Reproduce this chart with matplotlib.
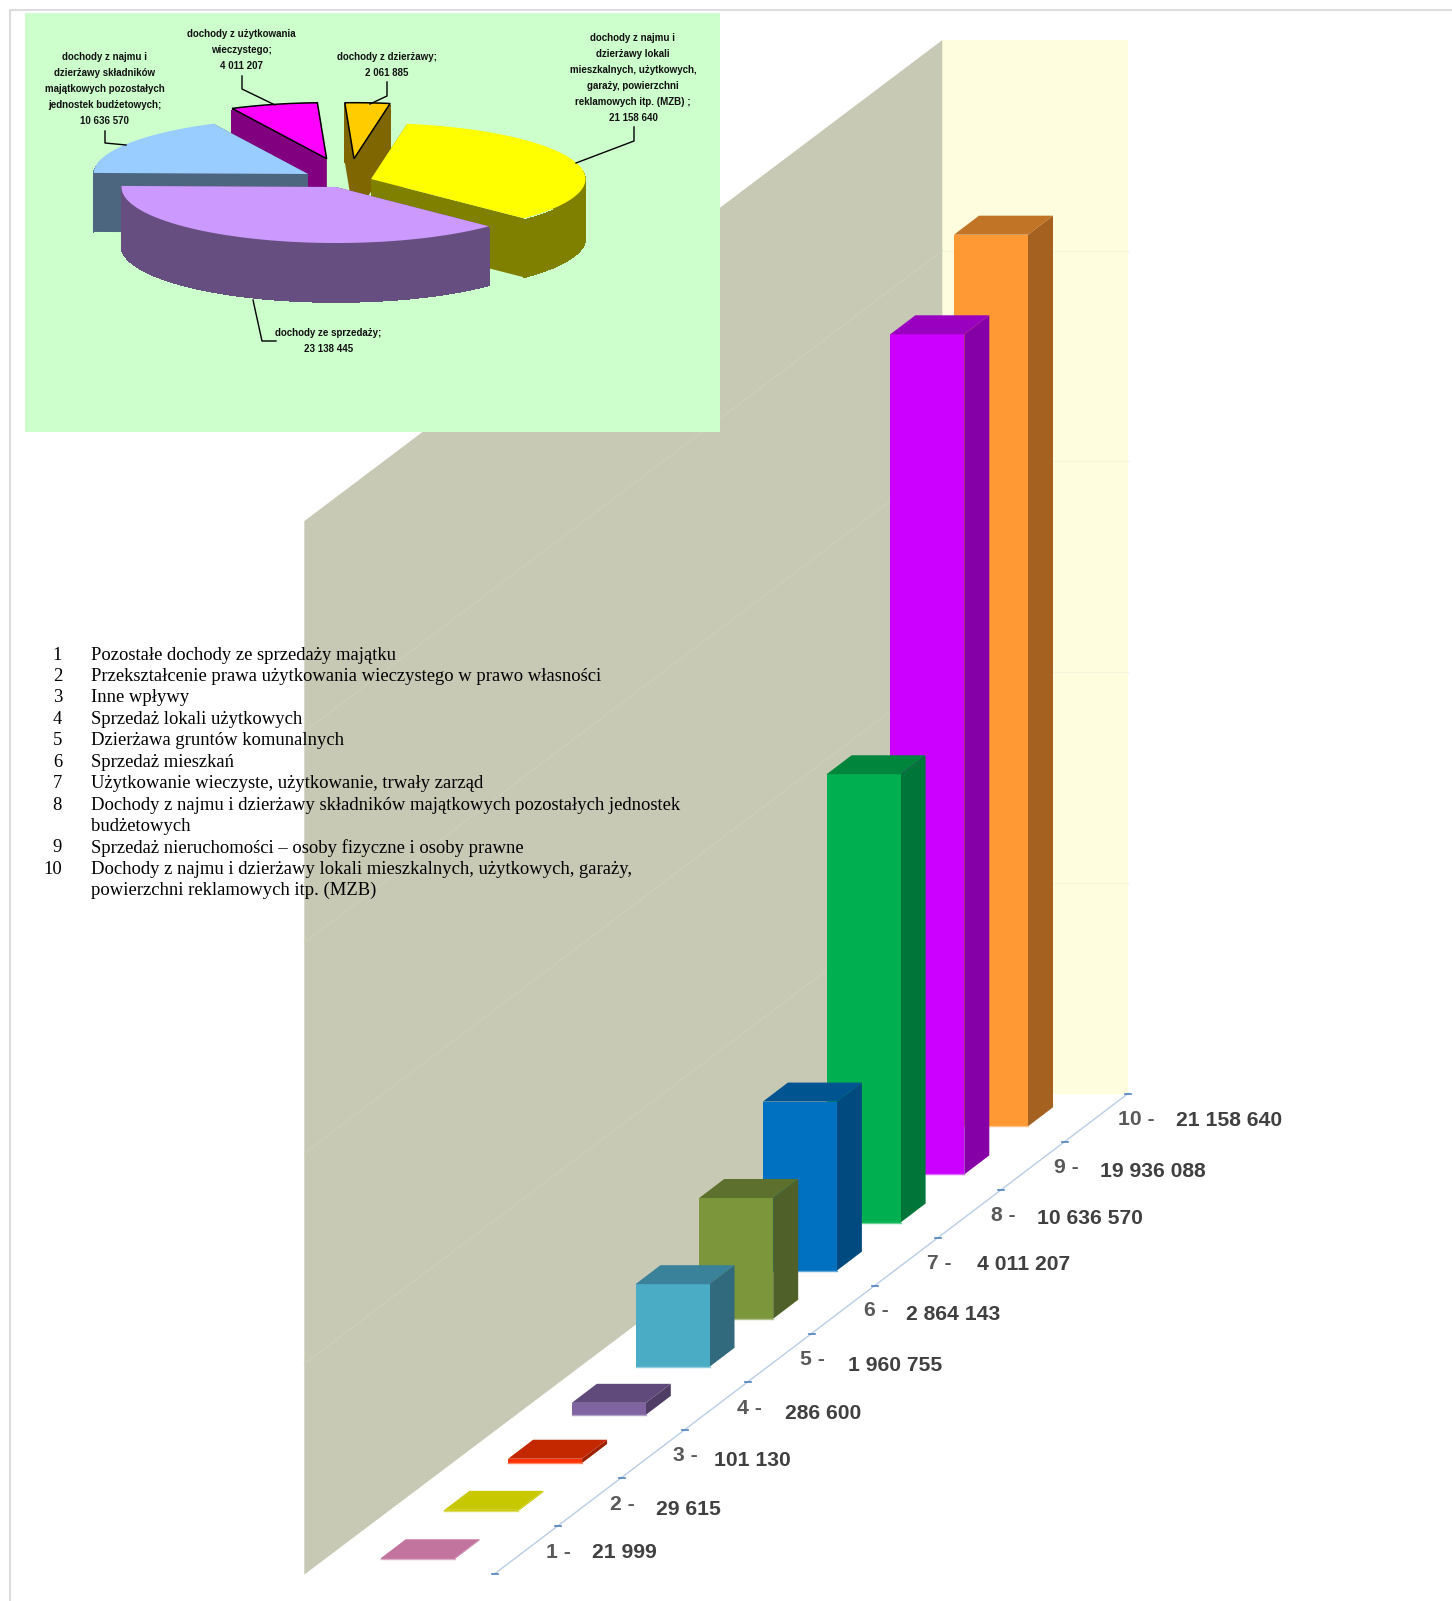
import numpy as np
import matplotlib
matplotlib.use("Agg")
import matplotlib.pyplot as plt
from matplotlib.collections import PolyCollection
from matplotlib.colors import to_rgb

# bar chart data
categories = ["1", "2", "3", "4", "5", "6", "7", "8", "9", "10"]
values = [21999, 29615, 101130, 286600, 1960755, 2864143, 4011207, 10636570, 19936088, 21158640]
value_labels = ["21 999", "29 615", "101 130", "286 600", "1 960 755", "2 864 143",
                "4 011 207", "10 636 570", "19 936 088", "21 158 640"]
y_ticks = [5000000, 10000000, 15000000, 20000000, 25000000]

# legend list
legend_rows = [
    ("1", "Pozostałe dochody ze sprzedaży majątku"),
    ("2", "Przekształcenie prawa użytkowania wieczystego w prawo własności"),
    ("3", "Inne wpływy"),
    ("4", "Sprzedaż lokali użytkowych"),
    ("5", "Dzierżawa gruntów komunalnych"),
    ("6", "Sprzedaż mieszkań"),
    ("7", "Użytkowanie wieczyste, użytkowanie, trwały zarząd"),
    ("8", "Dochody z najmu i dzierżawy składników majątkowych pozostałych jednostek"),
    ("", "budżetowych"),
    ("9", "Sprzedaż nieruchomości – osoby fizyczne i osoby prawne"),
    ("10", "Dochody z najmu i dzierżawy lokali mieszkalnych, użytkowych, garaży,"),
    ("", "powierzchni reklamowych itp. (MZB)"),
]

# pie data, clockwise from the start angle
pie_names = ["yellow", "lilac", "blue", "magenta", "orange"]
pie_values = [21158640, 23138445, 10636570, 4011207, 2061885]
pie_text = [
    ["dochody z najmu i", "dzierżawy lokali", "mieszkalnych, użytkowych,", "garaży, powierzchni",
     "reklamowych itp. (MZB) ;", "21 158 640"],
    ["dochody ze sprzedaży;", "23 138 445"],
    ["dochody z najmu i", "dzierżawy składników", "majątkowych pozostałych",
     "jednostek budżetowych;", "10 636 570"],
    ["dochody z użytkowania", "wieczystego;", "4 011 207"],
    ["dochody z dzierżawy;", "2 061 885"],
]

# styles and layout (pixels of the page)
front_cols = ["#C2749E", "#C8C800", "#FF3300", "#8064A2", "#4BACC6", "#7C963C", "#0070C0", "#00B050", "#CC00FF", "#FF9933"]
top_cols = ["#C2749E", "#C8C800", "#C42800", "#604A7B", "#39829A", "#5E702E", "#005490", "#00853C", "#9A00BF", "#C17326"]
side_cols = ["#C2749E", "#C8C800", "#9C2000", "#4F3D66", "#31697D", "#4F6128", "#004A7F", "#00753A", "#8600A8", "#A46120"]
label_gap = [46, 46, 41, 48, 48, 42, 50, 46, 46, 58]
cat_dy = [1, 2, 1, 2, 1, 0, 1, 1, 1, 1]
val_dy = [1, 7, 6, 7, 7, 4, 2, 4, 5, 2]
pie_tops = ["#FFFF00", "#CC99FF", "#99CCFF", "#FF00FF", "#FFCC00"]
pie_sides = ["#808000", "#664F80", "#4D6680", "#800080", "#806600"]
pie_apex = [(371, 179), (336, 187), (308, 174), (326.6, 158.7), (354, 158.7)]
pie_outline = [False, False, False, True, True]
pie_text_pos = [(633, 38), (328.5, 333), (104.5, 57), (241, 34), (387, 57)]
pie_leaders = [
    [(634, 127), (634, 141), (576, 163)],
    [(253, 300), (262, 341), (276, 341)],
    [(105, 131), (105, 143), (126, 145)],
    [(242, 76), (242, 89), (275, 105)],
    [(387, 82), (387, 96), (370, 104)],
]
PX_PER_VALUE = 42.14 / 1e6
BAR_W, DEPTH_X, DEPTH_Y = 74, 25, 19


def bar_x(i):
    return 954 - (9 - i) * 63.7


def bar_y(i):
    return 1126.3 + (9 - i) * 48.1


def lighter(col, f=0.4):
    r = np.array(to_rgb(col))
    return tuple(r + (1 - r) * f)


fig = plt.figure(figsize=(14.52, 16.01), dpi=100)
ax = fig.add_axes([0, 0, 1, 1])
ax.set_xlim(0, 1452)
ax.set_ylim(1601, 0)
ax.axis("off")

# page frame
ax.plot([9.5, 9.5, 1452], [1601, 10, 10], color="#DCDCDC", lw=1.5, zorder=0.5)

# walls
wall_x0, wall_x1, wall_x2 = 304.3, 942.3, 1128
wall_base, wall_drop = 1093.6, 481
wall_h = max(y_ticks) * PX_PER_VALUE
ax.fill([wall_x1, wall_x2, wall_x2, wall_x1],
        [wall_base - wall_h, wall_base - wall_h, wall_base, wall_base], color="#FEFEDF", lw=0, zorder=1)
ax.fill([wall_x0, wall_x1, wall_x1, wall_x0],
        [wall_base - wall_h + wall_drop, wall_base - wall_h, wall_base, wall_base + wall_drop],
        color="#C8C9B5", lw=0, zorder=1)
for t in y_ticks[:-1]:
    gy = wall_base - t * PX_PER_VALUE
    ax.plot([wall_x1, wall_x2], [gy, gy], color="#F5F5DA", lw=1, zorder=1.5)
    ax.plot([wall_x0, wall_x1], [gy + wall_drop, gy], color="#CDCEBB", lw=0.8, zorder=1.5)

# floor axis with ticks
tick_x = 495 + np.arange(11) * 63.3
tick_y = 1573.5 - np.arange(11) * 47.99
ax.plot(tick_x, tick_y, color="#B9CDE5", lw=1, zorder=1.5)
ax.plot(np.array([tick_x - 3, tick_x + 3]), np.array([tick_y, tick_y]), color="#4F81BD", lw=1.2, zorder=1.6)

# bars, back to front
for i in range(len(values) - 1, -1, -1):
    x, y = bar_x(i), bar_y(i)
    top = y - values[i] * PX_PER_VALUE
    z = 2 + (9 - i) * 0.1
    ax.fill([x + BAR_W, x + BAR_W + DEPTH_X, x + BAR_W + DEPTH_X, x + BAR_W],
            [top, top - DEPTH_Y, y - DEPTH_Y, y], color=side_cols[i], lw=0, zorder=z)
    ax.fill([x, x + BAR_W, x + BAR_W, x], [top, top, y, y], color=front_cols[i], lw=0, zorder=z)
    ax.fill([x, x + DEPTH_X, x + BAR_W + DEPTH_X, x + BAR_W],
            [top, top - DEPTH_Y, top - DEPTH_Y, top], color=top_cols[i], lw=0, zorder=z)
    ax.plot([x, x + BAR_W], [y, y], color=lighter(front_cols[i]), lw=1, zorder=z + 0.01)

# category and value labels
for i, (cat, lab) in enumerate(zip(categories, value_labels)):
    cx = 546 + i * 63.55
    cy = 1551 - i * 48.1
    ax.text(cx, cy + cat_dy[i], cat + " -", fontsize=15.2, fontweight="bold", family="Liberation Sans",
            color="#595959", va="center", ha="left", zorder=4)
    ax.text(cx + label_gap[i], cy + val_dy[i], lab, fontsize=15.2, fontweight="bold",
            family="Liberation Sans", color="#404040", va="center", ha="left", zorder=4)

# pie panel
ax.fill([24.5, 720, 720, 24.5], [13, 13, 432, 432], color="#CCFFCC", lw=0, zorder=5)
RX, RY, PIE_DEPTH = 214.5, 56, 59
shares = np.array(pie_values) / sum(pie_values) * 360
starts = 80.3 - np.concatenate([[0], np.cumsum(shares)[:-1]])
for n, k in enumerate([3, 4, 2, 0, 1]):
    z = 6 + n * 0.1
    cx, cy = pie_apex[k]
    a = np.radians(np.linspace(starts[k], starts[k] - shares[k], 120))
    arc_x = cx + RX * np.cos(a)
    arc_y = cy - RY * np.sin(a)
    # radial faces
    for j in [0, -1]:
        ax.fill([cx, arc_x[j], arc_x[j], cx],
                [cy, arc_y[j], arc_y[j] + PIE_DEPTH, cy + PIE_DEPTH],
                color=pie_sides[k], lw=0, zorder=z)
    # rim as thin quads, the band outline alone misses the vertical silhouette
    quads = [[(arc_x[q], arc_y[q] + 2), (arc_x[q + 1], arc_y[q + 1] + 2),
              (arc_x[q + 1], arc_y[q + 1] + PIE_DEPTH), (arc_x[q], arc_y[q] + PIE_DEPTH)]
             for q in range(len(a) - 1)]
    ax.add_collection(PolyCollection(quads, facecolors=pie_sides[k], edgecolors=pie_sides[k],
                                     linewidths=0.5, antialiaseds=False, zorder=z))
    # top
    if pie_outline[k]:
        ax.fill(np.r_[cx, arc_x], np.r_[cy, arc_y], facecolor=pie_tops[k], edgecolor="black", lw=1.1, zorder=z + 0.01)
    else:
        ax.fill(np.r_[cx, arc_x], np.r_[cy, arc_y], color=pie_tops[k], lw=0, zorder=z + 0.01)

for k in range(5):
    xs, ys = zip(*pie_leaders[k])
    ax.plot(xs, ys, color="black", lw=1, zorder=7)
    tx, ty = pie_text_pos[k]
    for n, line in enumerate(pie_text[k]):
        ax.text(tx, ty + n * 16, line, fontsize=7.0, fontweight="bold", family="Liberation Sans",
                color="#111111", ha="center", va="center", zorder=7)

# numbered legend
for n, (num, txt) in enumerate(legend_rows):
    ly = 655 + n * 21.43
    ax.text(62, ly, num, fontsize=13.4, family="Liberation Serif", ha="right", va="center", zorder=8)
    ax.text(91, ly, txt, fontsize=13.4, family="Liberation Serif", ha="left", va="center", zorder=8)

fig.savefig("out.png", dpi=100)
